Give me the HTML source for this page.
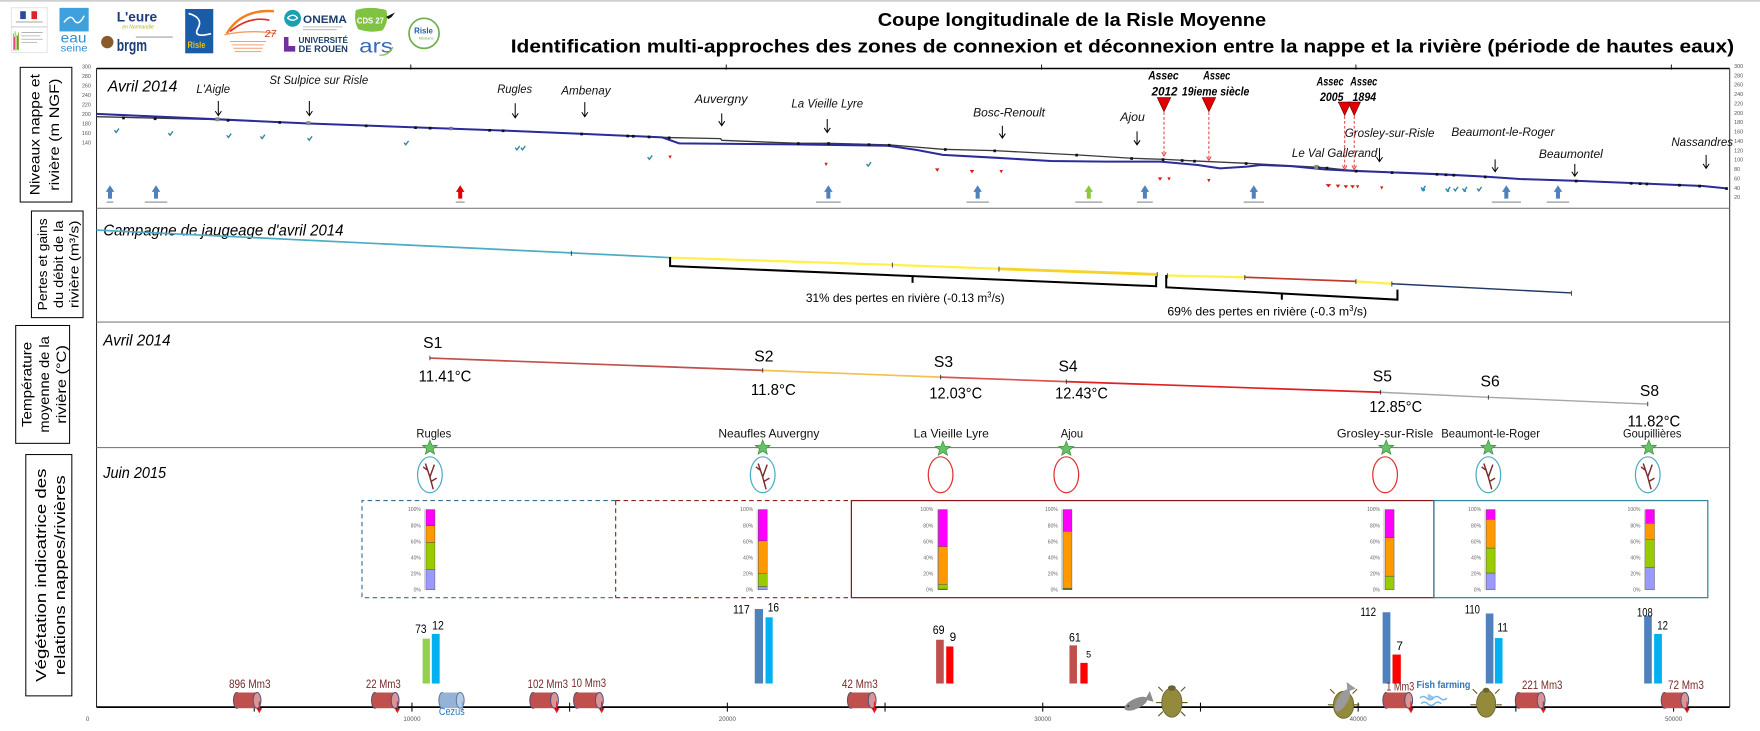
<!DOCTYPE html>
<html><head><meta charset="utf-8">
<style>
html,body{margin:0;padding:0;background:#fff;}
svg{display:block;}
text{font-family:"Liberation Sans",sans-serif;}
.it{font-style:italic;}
</style></head><body>
<svg width="1760" height="731" viewBox="0 0 1568 651.3" preserveAspectRatio="none" xmlns="http://www.w3.org/2000/svg">
<rect x="0" y="0" width="1568" height="651.3" fill="#fff"/>
<line x1="0" y1="0.8" x2="1568" y2="0.8" stroke="#c8c8c8" stroke-width="1.4"/>

<!-- ===== LOGOS ===== -->
<rect x="10" y="7" width="32" height="40" fill="#fff" stroke="#d0d0d0" stroke-width="0.5"/>
<rect x="18" y="10" width="5" height="7" fill="#2a4a9a"/><rect x="28" y="10" width="5" height="7" fill="#e0202a"/>
<rect x="14" y="19" width="24" height="1.2" fill="#bbb"/>
<line x1="10" y1="24" x2="42" y2="24" stroke="#aaa" stroke-width=".5"/>
<path d="M12 45 V30 M13.5 45 V28 M15 45 V31 M16.5 45 V29" stroke-width="0.9" fill="none" stroke="#8bc34a"/>
<path d="M13 44 V33 M15.8 44 V32" stroke="#e91e63" stroke-width="0.8"/>
<path d="M19 29 H38 M19 32 H36 M19 35 H38 M19 38 H33" stroke="#aaa" stroke-width="0.7"/>
<rect x="53" y="7" width="26" height="21" fill="#3ea0dc"/>
<path d="M57 20 Q63 12 66 18 Q70 24 75 14" stroke="#fff" stroke-width="1.3" fill="none"/>
<text x="54" y="38" font-size="12" fill="#2e8fd0" textLength="23" lengthAdjust="spacingAndGlyphs">eau</text>
<text x="54" y="46" font-size="9" fill="#2e8fd0" textLength="24" lengthAdjust="spacingAndGlyphs">seine</text>
<text x="104" y="19" font-size="12" font-weight="bold" fill="#1d3d7a" textLength="36" lengthAdjust="spacingAndGlyphs">L'eure</text>
<text x="109" y="25.5" font-size="5" class="it" fill="#a8b820" textLength="28" lengthAdjust="spacingAndGlyphs">en Normandie</text>
<circle cx="95.6" cy="37.5" r="5.5" fill="#8b5a2b"/>
<text x="104" y="45.5" font-size="15" font-weight="bold" fill="#1d3d7a" textLength="27" lengthAdjust="spacingAndGlyphs">brgm</text>
<path d="M121 33 H154" stroke="#888" stroke-width="0.8"/>
<rect x="165" y="8" width="25" height="39.5" fill="#1a5ca8"/>
<path d="M168 12 Q182 16 176 26 Q172 34 188 30" stroke="#fff" stroke-width="1.5" fill="none"/>
<text x="167" y="43" font-size="8" font-weight="bold" fill="#f0c000" textLength="16" lengthAdjust="spacingAndGlyphs">Risle</text>
<path d="M202 30 Q215 8 244 10" stroke="#f08020" stroke-width="2.2" fill="none"/>
<path d="M205 28 Q222 14 240 18" stroke="#e03020" stroke-width="1.5" fill="none"/>
<path d="M200 31 Q222 26 246 30" stroke="#f0a060" stroke-width="1.2" fill="none"/>
<text x="236" y="33" font-size="9" class="it" fill="#d03020">27</text>
<path d="M205 37 H237 M207 40 H235 M208 43 H234 M209 46 H233" stroke="#f0a070" stroke-width="0.9"/>
<circle cx="260.7" cy="16.3" r="7.5" fill="#1aa0b0"/>
<path d="M256 16 Q261 11 265 16 Q261 20 256 16" stroke="#fff" stroke-width="1.2" fill="none"/>
<text x="270" y="20.5" font-size="10" font-weight="bold" font-family="Liberation Serif,serif" fill="#1d3d6a" textLength="39" lengthAdjust="spacingAndGlyphs">ONEMA</text>
<path d="M270 24 H305 M270 26.5 H300" stroke="#999" stroke-width="0.6"/>
<path d="M253 33 V46 H263 V41 H257 V33 Z" fill="#7030a0"/>
<text x="266" y="38.5" font-size="7" font-weight="bold" fill="#1d3d6a" textLength="44" lengthAdjust="spacingAndGlyphs">UNIVERSITÉ</text>
<text x="266" y="46.5" font-size="8.5" font-weight="bold" fill="#1d3d6a" textLength="44" lengthAdjust="spacingAndGlyphs">DE ROUEN</text>
<path d="M317 9 Q330 5 344 9 Q347 18 341 27 Q330 30 319 26 Q315 18 317 9 Z" fill="#80c342"/>
<text x="318" y="21" font-size="7" font-weight="bold" fill="#fff" textLength="24" lengthAdjust="spacingAndGlyphs">CDS 27</text>
<path d="M344 15 L352 11 L349 15 L346 17 Z" fill="#111"/>
<text x="320" y="47" font-size="17" fill="#3b6ab5" textLength="30" lengthAdjust="spacingAndGlyphs">ars</text>
<path d="M338 49 Q346 50 350 42" stroke="#8bc34a" stroke-width="1.2" fill="none"/>
<circle cx="377.8" cy="29.7" r="13.4" fill="#fff" stroke="#6ab04c" stroke-width="1.5"/>
<text x="369" y="30" font-size="7" font-weight="bold" fill="#1f5fa8">Risle</text>
<text x="373" y="35" font-size="3.5" fill="#6ab04c">Médiane</text>

<!-- ===== TITLE ===== -->
<text x="782" y="23" font-size="16.5" font-weight="bold" fill="#000" textLength="346" lengthAdjust="spacingAndGlyphs">Coupe longitudinale de la Risle Moyenne</text>
<text x="455" y="47" font-size="16.5" font-weight="bold" fill="#000" textLength="1090" lengthAdjust="spacingAndGlyphs">Identification multi-approches des zones de connexion et déconnexion entre la nappe et la rivière (période de hautes eaux)</text>

<!-- ===== LEFT LABEL BOXES ===== -->
<rect x="18" y="60" width="46" height="120" fill="none" stroke="#000" stroke-width="0.9"/>
<text transform="translate(35,120) rotate(-90)" text-anchor="middle" font-size="12.5" textLength="108" lengthAdjust="spacingAndGlyphs">Niveaux nappe et</text>
<text transform="translate(52.5,120) rotate(-90)" text-anchor="middle" font-size="12.5" textLength="100" lengthAdjust="spacingAndGlyphs">rivière (m NGF)</text>

<rect x="28" y="188" width="46" height="95" fill="none" stroke="#000" stroke-width="0.9"/>
<text transform="translate(42,235.5) rotate(-90)" text-anchor="middle" font-size="11.5" textLength="82" lengthAdjust="spacingAndGlyphs">Pertes et gains</text>
<text transform="translate(56,235.5) rotate(-90)" text-anchor="middle" font-size="11.5" textLength="78" lengthAdjust="spacingAndGlyphs">du débit de la</text>
<text transform="translate(70,235.5) rotate(-90)" text-anchor="middle" font-size="11.5" textLength="78" lengthAdjust="spacingAndGlyphs">rivière (m³/s)</text>

<rect x="14" y="290" width="48" height="105" fill="none" stroke="#000" stroke-width="0.9"/>
<text transform="translate(28,342.5) rotate(-90)" text-anchor="middle" font-size="12" textLength="76" lengthAdjust="spacingAndGlyphs">Température</text>
<text transform="translate(43.5,342.5) rotate(-90)" text-anchor="middle" font-size="12" textLength="86" lengthAdjust="spacingAndGlyphs">moyenne de la</text>
<text transform="translate(59,342.5) rotate(-90)" text-anchor="middle" font-size="12" textLength="70" lengthAdjust="spacingAndGlyphs">rivière (°C)</text>

<rect x="23" y="405" width="41" height="215" fill="none" stroke="#000" stroke-width="0.9"/>
<text transform="translate(41,512.5) rotate(-90)" text-anchor="middle" font-size="13.5" textLength="190" lengthAdjust="spacingAndGlyphs">Végétation indicatrice des</text>
<text transform="translate(58,512.5) rotate(-90)" text-anchor="middle" font-size="13.5" textLength="178" lengthAdjust="spacingAndGlyphs">relations nappes/rivières</text>

<!-- ===== FRAME ===== -->
<line x1="86" y1="61" x2="1541" y2="61" stroke="#000" stroke-width="1.3"/>
<path d="M366 57.5 V62 M647 57.5 V62 M928 57.5 V62 M1208 57.5 V62 M1489 57.5 V62" stroke="#000" stroke-width="0.8"/>
<line x1="86" y1="61" x2="86" y2="630" stroke="#222" stroke-width="0.9"/>
<line x1="1541" y1="61" x2="1541" y2="630" stroke="#333" stroke-width="0.9"/>
<line x1="86" y1="185.6" x2="1541" y2="185.6" stroke="#7f7f7f" stroke-width="1"/>
<line x1="86" y1="287" x2="1541" y2="287" stroke="#7f7f7f" stroke-width="1"/>
<line x1="86" y1="398.8" x2="1541" y2="398.8" stroke="#7f7f7f" stroke-width="1"/>
<line x1="86" y1="630" x2="1541" y2="630" stroke="#000" stroke-width="1.6"/>
<path d="M226.5 626 V634 M367 626 V634 M507.5 626 V634 M648 626 V634 M788.5 626 V634 M929 626 V634 M1069.5 626 V634 M1210 626 V634 M1350.5 626 V634 M1491 626 V634" stroke="#000" stroke-width="0.9"/>
<g font-size="5.5" fill="#555" text-anchor="middle">
<text x="78" y="642.5">0</text><text x="367" y="642.5">10000</text><text x="648" y="642.5">20000</text><text x="929" y="642.5">30000</text><text x="1210" y="642.5">40000</text><text x="1491" y="642.5">50000</text>
</g>

<!-- axis tick labels panel 1 -->
<g font-size="4.8" fill="#555" text-anchor="end">
<text x="81" y="61.1">300</text><text x="81" y="69.5">280</text><text x="81" y="78">260</text><text x="81" y="86.4">240</text><text x="81" y="94.8">220</text><text x="81" y="103.3">200</text><text x="81" y="111.7">180</text><text x="81" y="120.1">160</text><text x="81" y="128.6">140</text>
</g>
<g font-size="4.8" fill="#555">
<text x="1545" y="60.5">300</text><text x="1545" y="68.9">280</text><text x="1545" y="77.2">260</text><text x="1545" y="85.6">240</text><text x="1545" y="93.9">220</text><text x="1545" y="102.3">200</text><text x="1545" y="110.6">180</text><text x="1545" y="119">160</text><text x="1545" y="127.3">140</text><text x="1545" y="135.7">120</text><text x="1545" y="144">100</text><text x="1545" y="152.4">80</text><text x="1545" y="160.7">60</text><text x="1545" y="169.1">40</text><text x="1545" y="177.4">20</text>
</g>

<!-- ===== PANEL 1 ===== -->
<text x="96" y="81.5" font-size="14" class="it" textLength="62" lengthAdjust="spacingAndGlyphs">Avril 2014</text>

<polyline fill="none" stroke="#3a3a3a" stroke-width="1.2" points="86,104 194,106.5 275,110 370,113.5 458,116.7 522,119.4 596,122.6 642,123.5 643,125 711,127.7 738,127.7 794,129.2 840,133 886,134.2 959,138 1008,141 1038,142 1064,143.4 1111,145.5 1180,149.4 1208,152.3 1284,155.3 1323,157.4 1354,159.5 1406,161.2 1458,163.3 1517,165.7 1538,167.8"/>
<polyline fill="none" stroke="#2b2b9a" stroke-width="1.8" points="86,101.5 194,106.3 275,110 370,113.5 458,116.7 522,119.4 590,122.4 605,127.7 705,128.6 791,129.8 817,133.6 840,138 886,140.5 936,143.4 985,144 1034,144 1067,147 1087,150 1111,148.5 1123,147 1150,148 1180,150.9 1208,152.3 1284,155.3 1323,157.4 1354,159.5 1406,161.2 1458,163.3 1517,165.7 1538,167.8"/>
<g fill="#111">
<rect x="108.8" y="103.9" width="2.4" height="2.4"/><rect x="137" y="104.6" width="2.4" height="2.4"/><rect x="202" y="106" width="2.4" height="2.4"/><rect x="248" y="107.9" width="2.4" height="2.4"/><rect x="325" y="110.9" width="2.4" height="2.4"/><rect x="369" y="112.5" width="2.4" height="2.4"/><rect x="382" y="113" width="2.4" height="2.4"/><rect x="435" y="114.9" width="2.4" height="2.4"/><rect x="447" y="115.3" width="2.4" height="2.4"/><rect x="517" y="118.2" width="2.4" height="2.4"/><rect x="558" y="120" width="2.4" height="2.4"/><rect x="563" y="120.2" width="2.4" height="2.4"/><rect x="577" y="120.8" width="2.4" height="2.4"/><rect x="595" y="121.6" width="2.4" height="2.4"/><rect x="710" y="126.7" width="2.4" height="2.4"/><rect x="737" y="126.7" width="2.4" height="2.4"/><rect x="773" y="127.7" width="2.4" height="2.4"/><rect x="791" y="128.2" width="2.4" height="2.4"/><rect x="841" y="132" width="2.4" height="2.4"/><rect x="885" y="133.2" width="2.4" height="2.4"/><rect x="958" y="137" width="2.4" height="2.4"/><rect x="1007" y="140" width="2.4" height="2.4"/><rect x="1035" y="141" width="2.4" height="2.4"/><rect x="1052" y="141.8" width="2.4" height="2.4"/><rect x="1063" y="142.4" width="2.4" height="2.4"/><rect x="1109" y="144.5" width="2.4" height="2.4"/><rect x="1173" y="148" width="2.4" height="2.4"/><rect x="1181" y="148.6" width="2.4" height="2.4"/><rect x="1207" y="151.3" width="2.4" height="2.4"/><rect x="1239" y="152.6" width="2.4" height="2.4"/><rect x="1279" y="154.1" width="2.4" height="2.4"/><rect x="1287" y="154.5" width="2.4" height="2.4"/><rect x="1294" y="154.9" width="2.4" height="2.4"/><rect x="1322" y="156.4" width="2.4" height="2.4"/><rect x="1403" y="160.1" width="2.4" height="2.4"/><rect x="1452" y="162.1" width="2.4" height="2.4"/><rect x="1460" y="162.4" width="2.4" height="2.4"/><rect x="1466" y="162.7" width="2.4" height="2.4"/><rect x="1495" y="163.8" width="2.4" height="2.4"/><rect x="1513" y="164.6" width="2.4" height="2.4"/><rect x="1537" y="166.8" width="2.4" height="2.4"/>
</g>
<g fill="#8a8a8a"><rect x="192" y="104.5" width="3.5" height="3.5"/><rect x="273" y="108" width="3.5" height="3.5"/><rect x="400" y="113" width="3.5" height="3" fill="#7a6ac0"/><rect x="1171" y="147" width="3.5" height="3.5"/></g>

<!-- teal markers -->
<g stroke="#31859c" stroke-width="1.2" fill="none">
<path d="M102 116 l1.5 2 l2.5 -3.5"/><path d="M150 118.5 l1.5 2 l2.5 -3.5"/><path d="M202 120.5 l1.5 2 l2.5 -3.5"/><path d="M232 121.5 l1.5 2 l2.5 -3.5"/><path d="M274 123 l1.5 2 l2.5 -3.5"/><path d="M360 127 l1.5 2 l2.5 -3.5"/><path d="M459 131.5 l1.5 2 l2.5 -3.5"/><path d="M464 131.5 l1.5 2 l2.5 -3.5"/><path d="M577 140 l1.5 2 l2.5 -3.5"/><path d="M772 146 l1.5 2 l2.5 -3.5"/>
<path d="M1266 167 l1.5 2 l2.5 -3.5"/><path d="M1288 168 l1.5 2 l2.5 -3.5"/><path d="M1295 168 l1.5 2 l2.5 -3.5"/><path d="M1303 168 l1.5 2 l2.5 -3.5"/><path d="M1316 168 l1.5 2 l2.5 -3.5"/>
</g>
<g fill="#2e8fd0"><circle cx="1268" cy="169" r="1.6"/><circle cx="1290" cy="170" r="1.2"/><circle cx="1305" cy="170" r="1.2"/></g>
<!-- red markers -->
<g fill="#e01818">
<path d="M595.5 138.5 h3 l-1.5 3 z"/><path d="M734.5 145 h3 l-1.5 3 z"/><path d="M833 150 h4 l-2 3 z"/><path d="M864 151.5 h4 l-2 3 z"/><path d="M890.5 151.5 h3 l-1.5 3 z"/><path d="M1031.5 158 h4 l-2 3 z"/><path d="M1040 158 h3 l-1.5 3 z"/><path d="M1075.5 159.5 h3 l-1.5 3 z"/><path d="M1181 164 h5 l-2.5 3 z"/><path d="M1190 164.5 h4 l-2 3 z"/><path d="M1197 165 h4 l-2 3 z"/><path d="M1203 165 h4 l-2 3 z"/><path d="M1208 165 h3 l-1.5 3 z"/><path d="M1229.5 166 h3 l-1.5 3 z"/>
</g>

<!-- up arrows -->
<g fill="#4f81bd">
<path d="M96.2 177 V171 H94.2 L98 165 L101.8 171 H99.8 V177 Z"/>
<path d="M137.2 177 V171 H135.2 L139 165 L142.8 171 H140.8 V177 Z"/>
<path d="M736.2 177 V171 H734.2 L738 165 L741.8 171 H739.8 V177 Z"/>
<path d="M869.2 177 V171 H867.2 L871 165 L874.8 171 H872.8 V177 Z"/>
<path d="M1018.2 177 V171 H1016.2 L1020 165 L1023.8 171 H1021.8 V177 Z"/>
<path d="M1115.2 177 V171 H1113.2 L1117 165 L1120.8 171 H1118.8 V177 Z"/>
<path d="M1340.2 177 V171 H1338.2 L1342 165 L1345.8 171 H1343.8 V177 Z"/>
<path d="M1386.2 177 V171 H1384.2 L1388 165 L1391.8 171 H1389.8 V177 Z"/>
</g>
<path d="M408.2 177 V171 H406.2 L410 165 L413.8 171 H411.8 V177 Z" fill="#e00000"/>
<path d="M968.2 177 V171 H966.2 L970 165 L973.8 171 H971.8 V177 Z" fill="#8dc63f"/>
<g fill="#a0a0a0">
<rect x="95" y="179.5" width="6" height="1.2"/><rect x="129" y="179.5" width="20" height="1.2"/><rect x="406" y="179.5" width="8" height="1.2"/><rect x="727" y="179.5" width="22" height="1.2"/><rect x="861" y="179.5" width="20" height="1.2"/><rect x="958" y="179.5" width="24" height="1.2"/><rect x="1013" y="179.5" width="14" height="1.2"/><rect x="1108" y="179.5" width="18" height="1.2"/><rect x="1329" y="179.5" width="26" height="1.2"/><rect x="1378" y="179.5" width="20" height="1.2"/>
</g>

<!-- town labels panel 1 -->
<g font-size="11" class="it" fill="#111">
<text x="175" y="83" textLength="30" lengthAdjust="spacingAndGlyphs">L'Aigle</text>
<text x="240" y="75" textLength="88" lengthAdjust="spacingAndGlyphs">St Sulpice sur Risle</text>
<text x="443" y="83" textLength="31" lengthAdjust="spacingAndGlyphs">Rugles</text>
<text x="500" y="84" textLength="44" lengthAdjust="spacingAndGlyphs">Ambenay</text>
<text x="619" y="92" textLength="47" lengthAdjust="spacingAndGlyphs">Auvergny</text>
<text x="705" y="96" textLength="64" lengthAdjust="spacingAndGlyphs">La Vieille Lyre</text>
<text x="867" y="104" textLength="64" lengthAdjust="spacingAndGlyphs">Bosc-Renoult</text>
<text x="998" y="108" textLength="22" lengthAdjust="spacingAndGlyphs">Ajou</text>
<text x="1198" y="122" textLength="80" lengthAdjust="spacingAndGlyphs">Grosley-sur-Risle</text>
<text x="1151" y="140" textLength="76" lengthAdjust="spacingAndGlyphs">Le Val Gallerand</text>
<text x="1293" y="121" textLength="92" lengthAdjust="spacingAndGlyphs">Beaumont-le-Roger</text>
<text x="1371" y="141" textLength="57" lengthAdjust="spacingAndGlyphs">Beaumontel</text>
<text x="1489" y="130" textLength="55" lengthAdjust="spacingAndGlyphs">Nassandres</text>
</g>
<g stroke="#000" stroke-width="0.9" fill="none">
<path d="M194.5 90 V103 M191.8 99 L194.5 103 L197.2 99"/>
<path d="M275.6 90 V103 M272.9 99 L275.6 103 L278.3 99"/>
<path d="M459 92 V105 M456.3 101 L459 105 L461.7 101"/>
<path d="M521 91 V104 M518.3 100 L521 104 L523.7 100"/>
<path d="M643 101 V112 M640.3 108 L643 112 L645.7 108"/>
<path d="M737 106 V118 M734.3 114 L737 118 L739.7 114"/>
<path d="M893 112 V123 M890.3 119 L893 123 L895.7 119"/>
<path d="M1013 117 V129 M1010.3 125 L1013 129 L1015.7 125"/>
<path d="M1229 132 V144 M1226.3 140 L1229 144 L1231.7 140"/>
<path d="M1332 142 V153 M1329.3 149 L1332 153 L1334.7 149"/>
<path d="M1403 146 V157 M1400.3 153 L1403 157 L1405.7 153"/>
<path d="M1520 138 V150 M1517.3 146 L1520 150 L1522.7 146"/>
</g>

<!-- Assec -->
<g font-size="10.5" font-weight="bold" class="it" fill="#000">
<text x="1023" y="71" textLength="27" lengthAdjust="spacingAndGlyphs">Assec</text>
<text x="1026" y="85" textLength="23" lengthAdjust="spacingAndGlyphs">2012</text>
<text x="1072" y="71" textLength="24" lengthAdjust="spacingAndGlyphs">Assec</text>
<text x="1053" y="85" textLength="60" lengthAdjust="spacingAndGlyphs">19ieme siècle</text>
<text x="1173" y="76" textLength="24" lengthAdjust="spacingAndGlyphs">Assec</text>
<text x="1176" y="90" textLength="21" lengthAdjust="spacingAndGlyphs">2005</text>
<text x="1203" y="76" textLength="24" lengthAdjust="spacingAndGlyphs">Assec</text>
<text x="1205" y="90" textLength="21" lengthAdjust="spacingAndGlyphs">1894</text>
</g>
<line x1="1192" y1="91.5" x2="1212" y2="91.5" stroke="#000" stroke-width="0.8"/>
<g fill="#e00000" stroke="#700" stroke-width="0.6">
<path d="M1031 87 H1043 L1037 99.5 Z"/>
<path d="M1071 87 H1083 L1077 99.5 Z"/>
<path d="M1192.5 91 H1203.5 L1198 103 Z"/>
<path d="M1201 91 H1212 L1206.5 103 Z"/>
</g>
<g stroke="#e04040" stroke-width="0.9" fill="none">
<path d="M1037 100 V139" stroke-dasharray="2.5,1.8"/><path d="M1035 135.5 L1037 139 L1039 135.5"/>
<path d="M1077 100 V143" stroke-dasharray="2.5,1.8"/><path d="M1075 139.5 L1077 143 L1079 139.5"/>
<path d="M1198 103.5 V151" stroke-dasharray="2.5,1.8"/><path d="M1196 147.5 L1198 151 L1200 147.5"/>
<path d="M1206.5 103.5 V151" stroke-dasharray="2.5,1.8"/><path d="M1204.5 147.5 L1206.5 151 L1208.5 147.5"/>
</g>

<!-- ===== PANEL 2 ===== -->
<text x="92" y="210" font-size="14" class="it" textLength="214" lengthAdjust="spacingAndGlyphs">Campagne de jaugeage d'avril 2014</text>
<line x1="86" y1="205" x2="596" y2="229.5" stroke="#4bacc6" stroke-width="1.5"/>
<polyline fill="none" stroke="#fff04a" stroke-width="2" points="596,229.5 795,236 890,239.5"/>
<line x1="890" y1="239.5" x2="1031" y2="244.5" stroke="#f6d32a" stroke-width="2.6"/>
<line x1="1040" y1="245.5" x2="1109" y2="247" stroke="#fff04a" stroke-width="2"/>
<line x1="1109" y1="247" x2="1208" y2="250.7" stroke="#c0392b" stroke-width="1.5"/>
<line x1="1208" y1="250.7" x2="1240" y2="252.8" stroke="#fff04a" stroke-width="2"/>
<line x1="1240" y1="252.8" x2="1400" y2="261" stroke="#1f3864" stroke-width="1.3"/>
<g stroke="#333" stroke-width="0.8">
<path d="M509 223.5 V228 M795 234 V238.5 M890 237.5 V242 M1031 242.5 V247 M1040 243.5 V248 M1109 245 V249.5 M1208 248.7 V253 M1240 250.8 V255.3 M1400 259 V263.5"/>
</g>
<g stroke="#000" stroke-width="1.8" fill="none">
<path d="M597 229 V237 L1030 255 V246"/>
<path d="M813 246 V252"/>
<path d="M1039 245 V256 L1245 267 V258"/>
<path d="M1142 261.5 V267"/>
</g>
<text x="718" y="269" font-size="11" textLength="177" lengthAdjust="spacingAndGlyphs">31% des pertes en rivière (-0.13 m<tspan font-size="7" dy="-4">3</tspan><tspan dy="4">/s)</tspan></text>
<text x="1040" y="281" font-size="11" textLength="178" lengthAdjust="spacingAndGlyphs">69% des pertes en rivière (-0.3 m<tspan font-size="7" dy="-4">3</tspan><tspan dy="4">/s)</tspan></text>

<!-- ===== PANEL 3 ===== -->
<text x="92" y="308" font-size="14" class="it" textLength="60" lengthAdjust="spacingAndGlyphs">Avril 2014</text>
<line x1="383" y1="319" x2="679.5" y2="330" stroke="#c0504d" stroke-width="1.5"/>
<line x1="679.5" y1="330" x2="838" y2="336" stroke="#f2c14e" stroke-width="1.5"/>
<line x1="838" y1="336" x2="950" y2="340" stroke="#d9534f" stroke-width="1.5"/>
<line x1="950" y1="340" x2="1230" y2="349.5" stroke="#e02020" stroke-width="1.5"/>
<polyline fill="none" stroke="#a6a6a6" stroke-width="1.3" points="1230,349.5 1326,354 1468,360"/>
<path d="M383 317 V321 M679.5 328 V332 M838 334 V338 M950 338 V342 M1230 347.5 V351.5 M1326 352 V356 M1468 358 V362" stroke="#333" stroke-width="0.8"/>
<g font-size="14" fill="#000">
<text x="377" y="310">S1</text><text x="672" y="322">S2</text><text x="832" y="327">S3</text><text x="943" y="331">S4</text><text x="1223" y="340">S5</text><text x="1319" y="344.5">S6</text><text x="1461" y="353">S8</text>
<text x="373" y="340" textLength="47" lengthAdjust="spacingAndGlyphs">11.41°C</text>
<text x="669" y="352" textLength="40" lengthAdjust="spacingAndGlyphs">11.8°C</text>
<text x="828" y="355" textLength="47" lengthAdjust="spacingAndGlyphs">12.03°C</text>
<text x="940" y="355" textLength="47" lengthAdjust="spacingAndGlyphs">12.43°C</text>
<text x="1220" y="367" textLength="47" lengthAdjust="spacingAndGlyphs">12.85°C</text>
<text x="1450" y="380" textLength="47" lengthAdjust="spacingAndGlyphs">11.82°C</text>
</g>
<g font-size="11" fill="#111">
<text x="371" y="390" textLength="31" lengthAdjust="spacingAndGlyphs">Rugles</text>
<text x="640" y="390" textLength="90" lengthAdjust="spacingAndGlyphs">Neaufles Auvergny</text>
<text x="814" y="390" textLength="67" lengthAdjust="spacingAndGlyphs">La Vieille Lyre</text>
<text x="945" y="390" textLength="20" lengthAdjust="spacingAndGlyphs">Ajou</text>
<text x="1191" y="390" textLength="86" lengthAdjust="spacingAndGlyphs">Grosley-sur-Risle</text>
<text x="1284" y="390" textLength="88" lengthAdjust="spacingAndGlyphs">Beaumont-le-Roger</text>
<text x="1446" y="390" textLength="52" lengthAdjust="spacingAndGlyphs">Goupillières</text>
</g>

<!-- ===== PANEL 4 ===== -->
<text x="92" y="426" font-size="14" class="it" textLength="56" lengthAdjust="spacingAndGlyphs">Juin 2015</text>

<!-- stars -->
<g fill="#66c266" stroke="#3a8a3a" stroke-width="0.6">
<polygon transform="translate(383,399)" points="0,-7 1.76,-2.43 6.66,-2.16 2.85,0.93 4.11,5.66 0,3 -4.11,5.66 -2.85,0.93 -6.66,-2.16 -1.76,-2.43"/>
<polygon transform="translate(679.5,399)" points="0,-7 1.76,-2.43 6.66,-2.16 2.85,0.93 4.11,5.66 0,3 -4.11,5.66 -2.85,0.93 -6.66,-2.16 -1.76,-2.43"/>
<polygon transform="translate(840,400)" points="0,-7 1.76,-2.43 6.66,-2.16 2.85,0.93 4.11,5.66 0,3 -4.11,5.66 -2.85,0.93 -6.66,-2.16 -1.76,-2.43"/>
<polygon transform="translate(950,400)" points="0,-7 1.76,-2.43 6.66,-2.16 2.85,0.93 4.11,5.66 0,3 -4.11,5.66 -2.85,0.93 -6.66,-2.16 -1.76,-2.43"/>
<polygon transform="translate(1235,399)" points="0,-7 1.76,-2.43 6.66,-2.16 2.85,0.93 4.11,5.66 0,3 -4.11,5.66 -2.85,0.93 -6.66,-2.16 -1.76,-2.43"/>
<polygon transform="translate(1326,399)" points="0,-7 1.76,-2.43 6.66,-2.16 2.85,0.93 4.11,5.66 0,3 -4.11,5.66 -2.85,0.93 -6.66,-2.16 -1.76,-2.43"/>
<polygon transform="translate(1469,399)" points="0,-7 1.76,-2.43 6.66,-2.16 2.85,0.93 4.11,5.66 0,3 -4.11,5.66 -2.85,0.93 -6.66,-2.16 -1.76,-2.43"/>
</g>
<!-- ellipses -->
<g fill="none" stroke-width="1.1">
<ellipse cx="383" cy="423" rx="11" ry="16" stroke="#4bacc6"/>
<ellipse cx="679.5" cy="423" rx="11" ry="16" stroke="#4bacc6"/>
<ellipse cx="1326" cy="423" rx="11" ry="16" stroke="#4bacc6"/>
<ellipse cx="1468" cy="423" rx="11" ry="16" stroke="#4bacc6"/>
<ellipse cx="838" cy="423" rx="11" ry="16" stroke="#e03030"/>
<ellipse cx="950" cy="423" rx="11" ry="16" stroke="#e03030"/>
<ellipse cx="1234" cy="423" rx="11" ry="16" stroke="#e03030"/>
</g>
<g stroke="#7b2c2c" stroke-width="1.3" fill="none">
<path d="M386 436 L383 425 L379 413 M383 425 L387 414 M381 419 L377 416 M384 429 L389 426"/>
<path d="M682.5 436 L679.5 425 L675.5 413 M679.5 425 L683.5 414 M677.5 419 L673.5 416 M680.5 429 L685.5 426"/>
<path d="M1329 436 L1326 425 L1322 413 M1326 425 L1330 414 M1324 419 L1320 416 M1327 429 L1332 426"/>
<path d="M1471 436 L1468 425 L1464 413 M1468 425 L1472 414 M1466 419 L1462 416 M1469 429 L1474 426"/>
</g>

<!-- boxes -->
<path d="M548.5 446 H322.5 V532.5 H548.5" fill="none" stroke="#31708f" stroke-width="1" stroke-dasharray="4,3"/>
<path d="M548.5 446 H758.5 M548.5 532.5 H758.5 M548.5 446 V532.5" fill="none" stroke="#8b2222" stroke-width="1" stroke-dasharray="4,3"/>
<rect x="758.5" y="446" width="519" height="86.5" fill="none" stroke="#8b1a1a" stroke-width="1.1"/>
<rect x="1277.5" y="446" width="244" height="86.5" fill="none" stroke="#31849b" stroke-width="1.1"/>

<!-- stacked bars -->
<g stroke="#444" stroke-width="0.35">
<rect x="379.5" y="507.6" width="8" height="17.9" fill="#9999ff"/><rect x="379.5" y="483.3" width="8" height="24.3" fill="#99cc00"/><rect x="379.5" y="468.3" width="8" height="15" fill="#ff9900"/><rect x="379.5" y="454" width="8" height="14.3" fill="#ff00ff"/>
<rect x="675.5" y="522.6" width="8" height="2.9" fill="#9999ff"/><rect x="675.5" y="511.2" width="8" height="11.4" fill="#99cc00"/><rect x="675.5" y="481.9" width="8" height="29.3" fill="#ff9900"/><rect x="675.5" y="454" width="8" height="27.9" fill="#ff00ff"/>
<rect x="836" y="524.8" width="8" height="0.7" fill="#9999ff"/><rect x="836" y="520.5" width="8" height="4.3" fill="#99cc00"/><rect x="836" y="486.9" width="8" height="33.6" fill="#ff9900"/><rect x="836" y="454" width="8" height="32.9" fill="#ff00ff"/>
<rect x="947" y="524.1" width="8" height="1.4" fill="#6b8e23"/><rect x="947" y="473.3" width="8" height="50.8" fill="#ff9900"/><rect x="947" y="454" width="8" height="19.3" fill="#ff00ff"/>
<rect x="1234" y="513.3" width="8" height="12.2" fill="#99cc00"/><rect x="1234" y="479" width="8" height="34.3" fill="#ff9900"/><rect x="1234" y="454" width="8" height="25" fill="#ff00ff"/>
<rect x="1324" y="510.5" width="8" height="15" fill="#9999ff"/><rect x="1324" y="488.3" width="8" height="22.2" fill="#99cc00"/><rect x="1324" y="462.6" width="8" height="25.7" fill="#ff9900"/><rect x="1324" y="454" width="8" height="8.6" fill="#ff00ff"/>
<rect x="1466" y="505.5" width="8" height="20" fill="#9999ff"/><rect x="1466" y="480.5" width="8" height="25" fill="#99cc00"/><rect x="1466" y="466.2" width="8" height="14.3" fill="#ff9900"/><rect x="1466" y="454" width="8" height="12.2" fill="#ff00ff"/>
</g>
<g stroke="#888" stroke-width="0.4">
<path d="M378.5 454 V525.5 M674.5 454 V525.5 M835 454 V525.5 M946 454 V525.5 M1233 454 V525.5 M1323 454 V525.5 M1465 454 V525.5"/>
</g>
<g font-size="4.5" fill="#666" text-anchor="end">
<text x="375" y="455.5">100%</text><text x="375" y="469.8">80%</text><text x="375" y="484.1">60%</text><text x="375" y="498.4">40%</text><text x="375" y="512.7">20%</text><text x="375" y="527">0%</text>
<text x="671" y="455.5">100%</text><text x="671" y="469.8">80%</text><text x="671" y="484.1">60%</text><text x="671" y="498.4">40%</text><text x="671" y="512.7">20%</text><text x="671" y="527">0%</text>
<text x="831.5" y="455.5">100%</text><text x="831.5" y="469.8">80%</text><text x="831.5" y="484.1">60%</text><text x="831.5" y="498.4">40%</text><text x="831.5" y="512.7">20%</text><text x="831.5" y="527">0%</text>
<text x="942.5" y="455.5">100%</text><text x="942.5" y="469.8">80%</text><text x="942.5" y="484.1">60%</text><text x="942.5" y="498.4">40%</text><text x="942.5" y="512.7">20%</text><text x="942.5" y="527">0%</text>
<text x="1229.5" y="455.5">100%</text><text x="1229.5" y="469.8">80%</text><text x="1229.5" y="484.1">60%</text><text x="1229.5" y="498.4">40%</text><text x="1229.5" y="512.7">20%</text><text x="1229.5" y="527">0%</text>
<text x="1319.5" y="455.5">100%</text><text x="1319.5" y="469.8">80%</text><text x="1319.5" y="484.1">60%</text><text x="1319.5" y="498.4">40%</text><text x="1319.5" y="512.7">20%</text><text x="1319.5" y="527">0%</text>
<text x="1461.5" y="455.5">100%</text><text x="1461.5" y="469.8">80%</text><text x="1461.5" y="484.1">60%</text><text x="1461.5" y="498.4">40%</text><text x="1461.5" y="512.7">20%</text><text x="1461.5" y="527">0%</text>
</g>

<!-- value bars -->
<rect x="376.5" y="569" width="6.5" height="40" fill="#92d050"/><rect x="384.7" y="564.8" width="7" height="44.2" fill="#00b0f0"/>
<rect x="672.4" y="542.6" width="7.4" height="66.4" fill="#4f81bd"/><rect x="682" y="550" width="6.4" height="59" fill="#00b0f0"/>
<rect x="834" y="570" width="6.8" height="39" fill="#c0504d"/><rect x="843" y="576" width="6.4" height="33" fill="#ff0000"/>
<rect x="952.8" y="575" width="6.7" height="34" fill="#c0504d"/><rect x="962.5" y="590.6" width="6.5" height="18.4" fill="#ff0000"/>
<rect x="1231.8" y="545.5" width="6.9" height="63.5" fill="#4f81bd"/><rect x="1240.6" y="583.2" width="7.4" height="25.8" fill="#ff0000"/>
<rect x="1323.7" y="546.6" width="6.8" height="62.4" fill="#4f81bd"/><rect x="1331.8" y="568.5" width="6.8" height="40.5" fill="#00b0f0"/>
<rect x="1464.8" y="548.5" width="6.8" height="60.5" fill="#4f81bd"/><rect x="1473.7" y="564.8" width="6.9" height="44.2" fill="#00b0f0"/>
<g font-size="10.5" fill="#000">
<text x="370" y="564" textLength="10" lengthAdjust="spacingAndGlyphs">73</text><text x="385" y="560.7" textLength="10.5" lengthAdjust="spacingAndGlyphs">12</text>
<text x="653" y="546.4" textLength="15" lengthAdjust="spacingAndGlyphs">117</text><text x="684" y="545" textLength="10" lengthAdjust="spacingAndGlyphs">16</text>
<text x="831" y="565" textLength="10.5" lengthAdjust="spacingAndGlyphs">69</text><text x="846" y="571">9</text>
<text x="952.4" y="571.7" textLength="10.5" lengthAdjust="spacingAndGlyphs">61</text><text x="967.7" y="586" font-size="8">5</text>
<text x="1212" y="548.8" textLength="14" lengthAdjust="spacingAndGlyphs">112</text><text x="1244" y="579">7</text>
<text x="1305" y="546.6" textLength="13.5" lengthAdjust="spacingAndGlyphs">110</text><text x="1334" y="562.8" textLength="9.5" lengthAdjust="spacingAndGlyphs">11</text>
<text x="1458.4" y="549.4" textLength="14" lengthAdjust="spacingAndGlyphs">108</text><text x="1476.5" y="560.7" textLength="9.5" lengthAdjust="spacingAndGlyphs">12</text>
</g>

<!-- drums -->
<g stroke="#4f4f7f" stroke-width="0.9">
<g><ellipse cx="211" cy="624" rx="3" ry="7" fill="#c0504d"/><rect x="211" y="617" width="18" height="14" fill="#c0504d" stroke="none"/><ellipse cx="229" cy="624" rx="3.5" ry="7" fill="#d99694"/><path d="M231 625 V634 M229 631 L231 634.5 L233 631" stroke="#e02020" stroke-width="1"/></g>
<g><ellipse cx="334" cy="624" rx="3" ry="7" fill="#c0504d"/><rect x="334" y="617" width="18" height="14" fill="#c0504d" stroke="none"/><ellipse cx="352" cy="624" rx="3.5" ry="7" fill="#d99694"/><path d="M354 625 V634 M352 631 L354 634.5 L356 631" stroke="#e02020" stroke-width="1"/></g>
<g><ellipse cx="394" cy="624" rx="3" ry="7" fill="#95b3d7" stroke="#5a7aa0"/><rect x="394" y="617" width="16" height="14" fill="#95b3d7" stroke="none"/><ellipse cx="410" cy="624" rx="3.5" ry="7" fill="#b8cce4" stroke="#5a7aa0"/><path d="M412 625 V633" stroke="#7fa6d6" stroke-width="1.2"/></g>
<g><ellipse cx="475" cy="624" rx="3" ry="7" fill="#c0504d"/><rect x="475" y="617" width="19" height="14" fill="#c0504d" stroke="none"/><ellipse cx="494" cy="624" rx="3.5" ry="7" fill="#d99694"/><path d="M496 625 V634 M494 631 L496 634.5 L498 631" stroke="#e02020" stroke-width="1"/></g>
<g><ellipse cx="514" cy="624" rx="3" ry="7" fill="#c0504d"/><rect x="514" y="617" width="20" height="14" fill="#c0504d" stroke="none"/><ellipse cx="534" cy="624" rx="3.5" ry="7" fill="#d99694"/><path d="M536 625 V634 M534 631 L536 634.5 L538 631" stroke="#e02020" stroke-width="1"/></g>
<g><ellipse cx="758" cy="624" rx="3" ry="7" fill="#c0504d"/><rect x="758" y="617" width="19" height="14" fill="#c0504d" stroke="none"/><ellipse cx="777" cy="624" rx="3.5" ry="7" fill="#d99694"/><path d="M779 625 V634 M777 631 L779 634.5 L781 631" stroke="#e02020" stroke-width="1"/></g>
<g><ellipse cx="1235" cy="624" rx="3" ry="7" fill="#c0504d"/><rect x="1235" y="617" width="20" height="14" fill="#c0504d" stroke="none"/><ellipse cx="1255" cy="624" rx="3.5" ry="7" fill="#d99694"/><path d="M1257 625 V634 M1255 631 L1257 634.5 L1259 631" stroke="#e02020" stroke-width="1"/></g>
<g><ellipse cx="1353" cy="624" rx="3" ry="7" fill="#c0504d"/><rect x="1353" y="617" width="20" height="14" fill="#c0504d" stroke="none"/><ellipse cx="1373" cy="624" rx="3.5" ry="7" fill="#d99694"/><path d="M1375 625 V634 M1373 631 L1375 634.5 L1377 631" stroke="#e02020" stroke-width="1"/></g>
<g><ellipse cx="1483" cy="624" rx="3" ry="7" fill="#c0504d"/><rect x="1483" y="617" width="18" height="14" fill="#c0504d" stroke="none"/><ellipse cx="1501" cy="624" rx="3.5" ry="7" fill="#d99694"/><path d="M1503 625 V634 M1501 631 L1503 634.5 L1505 631" stroke="#e02020" stroke-width="1"/></g>
</g>
<g font-size="10.5" fill="#7a2a2a">
<text x="204" y="613" textLength="37" lengthAdjust="spacingAndGlyphs">896 Mm3</text>
<text x="326" y="613" textLength="31" lengthAdjust="spacingAndGlyphs">22 Mm3</text>
<text x="470" y="613" textLength="36" lengthAdjust="spacingAndGlyphs">102 Mm3</text>
<text x="509" y="612" textLength="31" lengthAdjust="spacingAndGlyphs">10 Mm3</text>
<text x="750" y="613" textLength="32" lengthAdjust="spacingAndGlyphs">42 Mm3</text>
<text x="1235" y="615" textLength="25" lengthAdjust="spacingAndGlyphs">1 Mm3</text>
<text x="1356" y="614" textLength="36" lengthAdjust="spacingAndGlyphs">221 Mm3</text>
<text x="1486" y="614" textLength="32" lengthAdjust="spacingAndGlyphs">72 Mm3</text>
</g>
<text x="391" y="637" font-size="9.5" fill="#2e75b6" textLength="23" lengthAdjust="spacingAndGlyphs">Cezus</text>
<text x="1262" y="613" font-size="9" font-weight="bold" fill="#2e75b6" textLength="48" lengthAdjust="spacingAndGlyphs">Fish farming</text>
<path d="M1265 622 q3 -3 6 0 t6 0 t6 0 t6 0 M1266 627 q3 -3 6 0 t6 0 t6 0" stroke="#6fb7e8" stroke-width="1.2" fill="none"/>
<path d="M1272 618 l6 3 l-6 3 z" fill="#9dc3e6"/>

<!-- fish & beetles -->
<g transform="translate(1012,627) rotate(-25)">
<ellipse cx="0" cy="0" rx="11" ry="4.5" fill="#8c8c8c"/><path d="M9 0 L16 -5 L15 5 Z" fill="#8c8c8c"/><circle cx="-7" cy="-1" r="0.9" fill="#333"/>
</g>
<g>
<path d="M1036 616 L1032 612 M1052 616 L1056 612 M1035 626 L1030 626 M1053 626 L1058 626 M1036 634 L1032 638 M1052 634 L1056 638" stroke="#5e5a1e" stroke-width="1"/>
<ellipse cx="1044" cy="626" rx="9" ry="13" fill="#948a3c" stroke="#6b6430" stroke-width="0.8"/>
<ellipse cx="1044" cy="613" rx="3.5" ry="2.5" fill="#6b6430"/>
</g>
<g>
<path d="M1189 618 L1185 614 M1205 618 L1209 614 M1188 628 L1183 628 M1206 628 L1211 628" stroke="#5e5a1e" stroke-width="1"/>
<ellipse cx="1197" cy="628" rx="9" ry="12" fill="#948a3c" stroke="#6b6430" stroke-width="0.8"/>
</g>
<g transform="translate(1196,624) rotate(-60)">
<ellipse cx="0" cy="0" rx="11" ry="4.5" fill="#9a9a9a"/><path d="M9 0 L16 -5 L15 5 Z" fill="#9a9a9a"/>
</g>
<g>
<path d="M1316 618 L1312 614 M1332 618 L1336 614 M1315 628 L1310 628 M1333 628 L1338 628" stroke="#5e5a1e" stroke-width="1"/>
<ellipse cx="1324" cy="627" rx="8.5" ry="12" fill="#948a3c" stroke="#6b6430" stroke-width="0.8"/>
<ellipse cx="1324" cy="615" rx="3" ry="2.2" fill="#6b6430"/>
</g>
</svg>
</body></html>
